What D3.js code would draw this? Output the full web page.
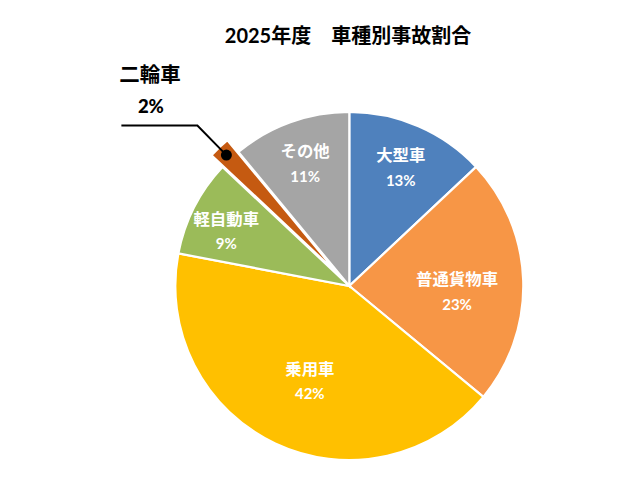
<!DOCTYPE html>
<html>
<head>
<meta charset="utf-8">
<script src="https://cdn.jsdelivr.net/npm/d3@7"></script>
<style>
  html, body { margin: 0; padding: 0; background: #fff; }
  svg { display: block; font-family: Lato, "Noto Sans CJK JP", "Noto Sans", sans-serif; }
</style>
</head>
<body>
<svg id="chart" width="640" height="492"></svg>
<script>
// ---- data ----
const title = "2025年度\u3000車種別事故割合";
const categories = ["大型車", "普通貨物車", "乗用車", "軽自動車", "二輪車", "その他"];
const values = [13, 23, 42, 9, 2, 11];
const percentLabels = ["13%", "23%", "42%", "9%", "2%", "11%"];

// ---- style / layout ----
const colors = ["#4F81BD", "#F79646", "#FFC000", "#9BBB59", "#C55A11", "#A5A5A5"];
const labelRadiusFactor = { "大型車": 0.745, "普通貨物車": 0.62, "乗用車": 0.59, "軽自動車": 0.775, "その他": 0.75 };
const labelAngleShift = { "普通貨物車": 0.08, "乗用車": -0.045, "軽自動車": -0.05 };
const exploded = "二輪車";
const cx = 349.3, cy = 286, R = 174, explodeDist = 16;

const svg = d3.select("#chart");

svg.append("text")
  .attr("x", 348).attr("y", 35)
  .attr("text-anchor", "middle")
  .attr("dominant-baseline", "central")
  .attr("font-size", 20).attr("font-weight", "bold")
  .attr("fill", "#000")
  .text(title);

const data = categories.map((c, i) => ({ cat: c, value: values[i], pct: percentLabels[i], color: colors[i] }));

const pie = d3.pie().sort(null).value(d => d.value).startAngle(0).endAngle(2 * Math.PI);
const arcs = pie(data);
const arc = d3.arc().innerRadius(0).outerRadius(R);

const g = svg.append("g").attr("transform", `translate(${cx},${cy})`);

function offsetOf(d) {
  if (d.data.cat !== exploded) return [0, 0];
  const mid = (d.startAngle + d.endAngle) / 2;
  return [Math.sin(mid) * explodeDist, -Math.cos(mid) * explodeDist];
}

g.selectAll("path.slice")
  .data(arcs)
  .join("path")
  .attr("class", "slice")
  .attr("d", arc)
  .attr("transform", d => { const o = offsetOf(d); return `translate(${o[0]},${o[1]})`; })
  .attr("fill", d => d.data.color)
  .attr("stroke", "#fff")
  .attr("stroke-width", 2.2)
  .attr("stroke-linejoin", "miter");

// inner labels
arcs.filter(d => d.data.cat !== exploded).forEach(d => {
  const mid = (d.startAngle + d.endAngle) / 2 + (labelAngleShift[d.data.cat] || 0);
  const r = R * labelRadiusFactor[d.data.cat];
  const x = Math.sin(mid) * r, y = -Math.cos(mid) * r;
  const t = g.append("text")
    .attr("text-anchor", "middle")
    .attr("fill", "#fff")
    .attr("font-weight", "bold");
  t.append("tspan").attr("x", x).attr("y", y - 12.5)
    .attr("dominant-baseline", "central").attr("font-size", 16.4).text(d.data.cat);
  t.append("tspan").attr("x", x).attr("y", y + 12.5)
    .attr("dominant-baseline", "central").attr("font-size", 15).text(d.data.pct);
});

// exploded slice callout
arcs.filter(d => d.data.cat === exploded).forEach(d => {
  const mid = (d.startAngle + d.endAngle) / 2;
  const o = offsetOf(d);
  const dotX = o[0] + Math.sin(mid) * R * 0.94;
  const dotY = o[1] - Math.cos(mid) * R * 0.94;
  const elbowX = dotX - 29, elbowY = dotY - 29.5;
  const endX = elbowX - 76;
  g.append("path")
    .attr("d", `M${dotX},${dotY}L${elbowX},${elbowY}L${endX},${elbowY}`)
    .attr("fill", "none").attr("stroke", "#000").attr("stroke-width", 2);
  g.append("circle").attr("cx", dotX).attr("cy", dotY).attr("r", 5.5).attr("fill", "#000");
  const lx = endX + 28.5;
  g.append("text").attr("x", lx).attr("y", elbowY - 52)
    .attr("text-anchor", "middle").attr("dominant-baseline", "central")
    .attr("font-size", 20.5).attr("font-weight", "bold").attr("fill", "#000")
    .text(d.data.cat);
  g.append("text").attr("x", lx + 1).attr("y", elbowY - 20)
    .attr("text-anchor", "middle").attr("dominant-baseline", "central")
    .attr("font-size", 18.5).attr("font-weight", 900).attr("fill", "#000")
    .text(d.data.pct);
});
</script>
</body>
</html>
